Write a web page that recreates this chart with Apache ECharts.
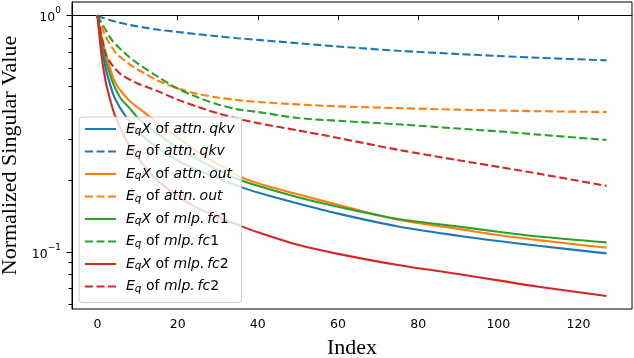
<!DOCTYPE html>
<html><head><meta charset="utf-8">
<script src="https://cdn.jsdelivr.net/npm/echarts@6/dist/echarts.min.js"></script>
<style>html,body{margin:0;padding:0;background:#fff}#c{width:634px;height:358px}</style>
</head><body><div id="c"></div>
<script>
const indices = [0,1,2,3,4,5,6,8,10,12,15,20,25,30,35,40,50,60,75,90,100,110,127];
const qkvEqX = [1,0.74,0.60,0.52,0.46,0.425,0.397,0.355,0.325,0.302,0.275,0.243,0.222,0.205,0.19,0.178,0.16,0.145,0.128,0.117,0.111,0.106,0.0985];
const qkvEq  = [1,0.98,0.967,0.955,0.945,0.935,0.927,0.91,0.897,0.886,0.87,0.85,0.832,0.815,0.8,0.787,0.762,0.738,0.708,0.686,0.673,0.661,0.645];
const outEqX = [1,0.82,0.70,0.61,0.54,0.50,0.475,0.435,0.408,0.385,0.35,0.305,0.265,0.235,0.21,0.195,0.175,0.158,0.1365,0.125,0.1177,0.112,0.104];
const outEq  = [1,0.9,0.82,0.76,0.715,0.68,0.66,0.62,0.59,0.565,0.53,0.49,0.465,0.449,0.438,0.43,0.42,0.412,0.405,0.399,0.396,0.393,0.39];
const fc1EqX = [1,0.78,0.65,0.57,0.51,0.47,0.44,0.405,0.37,0.345,0.315,0.275,0.246,0.222,0.203,0.19,0.17,0.155,0.1375,0.128,0.1215,0.116,0.1096];
const fc1Eq  = [1,0.93,0.87,0.812,0.77,0.74,0.713,0.665,0.626,0.595,0.55,0.49,0.45,0.42,0.4,0.39,0.368,0.358,0.346,0.332,0.323,0.313,0.297];
const fc2EqX = [1,0.68,0.53,0.45,0.393,0.355,0.325,0.28,0.25,0.228,0.2,0.172,0.153,0.14,0.13,0.121,0.107,0.098,0.0879,0.0805,0.0757,0.0712,0.065];
const fc2Eq  = [1,0.82,0.69,0.64,0.605,0.58,0.56,0.535,0.515,0.5,0.478,0.44,0.41,0.385,0.366,0.35,0.326,0.303,0.27,0.244,0.2286,0.214,0.19];

const layers = ['attn.qkv','attn.out','mlp.fc1','mlp.fc2'];
const kinds = ['EqX','Eq'];
const seriesValues = [qkvEqX,qkvEq,outEqX,outEq,fc1EqX,fc1Eq,fc2EqX,fc2Eq];
const colors = ['#1f77b4','#ff7f0e','#2ca02c','#d62728'];

const xTicks = [0,20,40,60,80,100,120];
const yMajorTicks = [0.1, 1];
const yMinorTicks = [0.06,0.07,0.08,0.09,0.2,0.3,0.4,0.5,0.6,0.7,0.8,0.9];
const X_MIN = -6.35, X_MAX = 133.35;
const Y_MIN = 0.0573, Y_MAX = 1.138;

const FONT = 'DejaVu Sans';
const series = seriesValues.map((vals, k) => {
  const layer = layers[Math.floor(k/2)];
  const kind = kinds[k%2];
  return {
    name: kind + '|' + layer,
    type: 'line',
    yAxisIndex: 0,
    symbol: 'none',
    smooth: 0.3,
    data: indices.map((x, i) => [x, vals[i]]),
    lineStyle: { color: colors[Math.floor(k/2)], width: 2.1, type: kind === 'Eq' ? [8, 3.5] : 'solid' },
    itemStyle: { color: colors[Math.floor(k/2)] }
  };
});

function legendText(name) {
  const [kind, layer] = name.split('|');
  const lay = layer.replace('.', '.\u2009');
  let s = '{it|E}{sub|q}';
  if (kind === 'EqX') s += '{it|X}';
  const m = lay.match(/^(.*?)(\d*)$/);
  s += '{rm| of }{it|' + m[1] + '}';
  if (m[2]) s += '{rm|' + m[2] + '}';
  return s;
}

const chart = echarts.init(document.getElementById('c'), null, {renderer: 'canvas'});
chart.setOption({
  backgroundColor: '#fff',
  animation: false,
  grid: { left: 72, right: 2, top: 2, bottom: 49, outerBoundsMode: 'none', containLabel: false, show: true, borderColor: '#000', borderWidth: 1, backgroundColor: 'transparent' },
  legend: {
    orient: 'vertical', left: 79, top: 117,
    itemWidth: 31, itemHeight: 14, itemGap: 7.5,
    padding: [5, 7, 8, 5],
    backgroundColor: 'rgba(255,255,255,0.8)',
    borderColor: '#cccccc', borderWidth: 1, borderRadius: 3,
    itemStyle: { opacity: 0 },
    data: series.map(s => s.name),
    formatter: legendText,
    textStyle: {
      fontFamily: FONT, fontSize: 14, color: '#000', padding: [0,0,0,5],
      rich: {
        it: { fontFamily: FONT, fontStyle: 'italic', fontSize: 14, color: '#000', lineHeight: 16 },
        rm: { fontFamily: FONT, fontSize: 14, color: '#000', lineHeight: 16 },
        sub: { fontFamily: FONT, fontStyle: 'italic', fontSize: 10.5, color: '#000', lineHeight: 10, verticalAlign: 'bottom' }
      }
    }
  },
  xAxis: {
    type: 'value', min: X_MIN, max: X_MAX,
    axisLine: { show: true, lineStyle: { color: '#000', width: 1 } },
    axisTick: { show: true, customValues: xTicks, length: 5, lineStyle: { color: '#000' } },
    axisLabel: { customValues: xTicks, fontFamily: FONT, fontSize: 12.5, color: '#000', margin: 9 },
    splitLine: { show: false },
    name: 'Index', nameLocation: 'middle', nameGap: 28,
    nameTextStyle: { fontFamily: 'Liberation Serif', fontSize: 22, color: '#000' }
  },
  yAxis: [
    {
      type: 'log', logBase: 10, min: Y_MIN, max: Y_MAX,
      axisLine: { show: false }, axisTick: { show: false }, axisLabel: { show: false }, splitLine: { show: false }
    },
    {
      type: 'value', min: Math.log10(Y_MIN), max: Math.log10(Y_MAX), position: 'left',
      axisLine: { show: true, onZero: false, lineStyle: { color: '#000', width: 1 } },
      axisTick: { show: true, customValues: yMajorTicks.map(v => Math.log10(v)), length: 5.5, lineStyle: { color: '#000' } },
      axisLabel: {
        customValues: yMajorTicks.map(v => Math.log10(v)),
        margin: 11,
        formatter: v => { const e = Math.round(v); return '{b|10}{s|' + (e < 0 ? '\u2212' + (-e) : e) + '}'; },
        rich: {
          b: { fontFamily: FONT, fontSize: 12.5, color: '#000', lineHeight: 18, verticalAlign: 'bottom' },
          s: { fontFamily: FONT, fontSize: 9, color: '#000', lineHeight: 9, verticalAlign: 'top' }
        }
      },
      splitLine: { show: false },
      name: 'Normalized Singular Value', nameLocation: 'middle', nameGap: 50, nameRotate: 90,
      nameTextStyle: { fontFamily: 'Liberation Serif', fontSize: 22, color: '#000' }
    },
    {
      type: 'value', min: Math.log10(Y_MIN), max: Math.log10(Y_MAX), position: 'left',
      axisLine: { show: false },
      axisTick: { show: true, customValues: yMinorTicks.map(v => Math.log10(v)), length: 3.5, lineStyle: { color: '#000' } },
      axisLabel: { show: false },
      splitLine: { show: false }
    }
  ],
  series: series
});
</script>
</body></html>
